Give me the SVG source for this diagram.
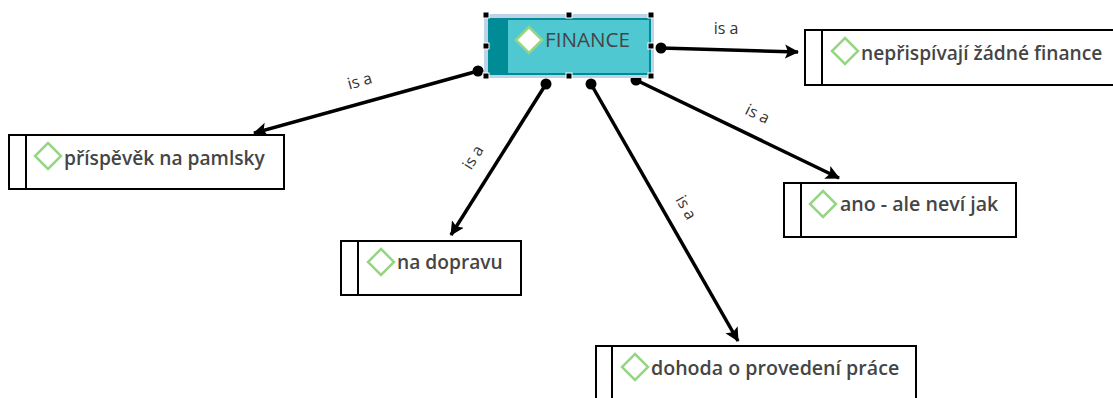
<svg xmlns="http://www.w3.org/2000/svg" width="1113" height="398" viewBox="0 0 1113 398">
<style>
.box{fill:#fff;stroke:#000;stroke-width:2}
.bar{stroke:#000;stroke-width:2;fill:none}
.dia{fill:#fff;stroke:#97d585;stroke-width:2.5}
.t{font-family:"Open Sans","Noto Sans",sans-serif;font-weight:600;font-size:19.2px;fill:#454545}
.l{font-family:"Open Sans","Noto Sans",sans-serif;font-size:16px;fill:#333}
.c{stroke:#000;stroke-width:3.5;fill:none;marker-end:url(#a)}
.h{fill:#000}
.hw{fill:#000;stroke:#fff;stroke-width:1}
</style>
<defs><marker id="a" markerUnits="userSpaceOnUse" markerWidth="16" markerHeight="16" refX="13" refY="8" orient="auto"><path d="M0 1L14 8L0 15L3 8Z" fill="#000"/></marker></defs>
<g id="connectors">
<path class="c" d="M478 71L254 133"/><circle class="h" cx="478" cy="71" r="5.5"/>
<path class="c" d="M546 84L451 235"/><circle class="h" cx="546" cy="84" r="5.5"/>
<path class="c" d="M591 84L738 341"/><circle class="h" cx="591" cy="84" r="5.5"/>
<path class="c" d="M636 80L839 178"/><circle class="h" cx="636" cy="80" r="5.5"/>
<path class="c" d="M661 48L798 52"/><circle class="h" cx="661" cy="48" r="5.5"/>
<text class="l" transform="translate(360 82) rotate(-16)" text-anchor="middle" dominant-baseline="middle">is a</text>
<text class="l" transform="translate(474 158) rotate(-58)" text-anchor="middle" dominant-baseline="middle">is a</text>
<text class="l" transform="translate(685 208) rotate(60)" text-anchor="middle" dominant-baseline="middle">is a</text>
<text class="l" transform="translate(757 115) rotate(26)" text-anchor="middle" dominant-baseline="middle">is a</text>
<text class="l" x="726" y="30" text-anchor="middle" dominant-baseline="middle">is a</text>
</g>
<g id="finance">
<rect x="484" y="14" width="170" height="64" fill="#c0d3e6"/>
<rect x="489" y="19" width="161" height="55" fill="#50c8d2" stroke="#008c96" stroke-width="2"/>
<rect x="488" y="18" width="20" height="56" fill="#008c96"/>
<g class="hw"><rect x="483" y="12" width="6" height="6"/><rect x="566" y="12" width="6" height="6"/><rect x="648" y="12" width="6" height="6"/><rect x="483" y="43" width="6" height="6"/><rect x="648" y="43" width="6" height="6"/><rect x="483" y="73" width="6" height="6"/><rect x="566" y="73" width="6" height="6"/><rect x="648" y="73" width="6" height="6"/></g>
<path class="dia" d="M529 27L542 40L529 53L516 40Z"/>
<text x="545" y="47" font-family="'Open Sans','Noto Sans',sans-serif" font-weight="500" font-size="20.6" fill="#454545">FINANCE</text>
</g>
<g id="n1"><rect class="box" x="805" y="30" width="310" height="55"/><path class="bar" d="M822 30V85"/><path class="dia" d="M845 38L858 51L845 64L832 51Z"/><text class="t" x="861" y="60">nepřispívají žádné finance</text></g>
<g id="n2"><rect class="box" x="9" y="135" width="275" height="54"/><path class="bar" d="M26 135V189"/><path class="dia" d="M48 143L61 156L48 169L35 156Z"/><text class="t" x="64" y="165">příspěvěk na pamlsky</text></g>
<g id="n3"><rect class="box" x="341" y="241" width="180" height="54"/><path class="bar" d="M358 241V295"/><path class="dia" d="M381 249L394 262L381 275L368 262Z"/><text class="t" x="397" y="269">na dopravu</text></g>
<g id="n4"><rect class="box" x="784" y="183" width="232" height="54"/><path class="bar" d="M801 183V237"/><path class="dia" d="M823 191L836 204L823 217L810 204Z"/><text class="t" x="840" y="211" style="font-size:19.6px">ano - ale neví jak</text></g>
<g id="n5"><rect class="box" x="596" y="346" width="320" height="56"/><path class="bar" d="M612 346V402"/><path class="dia" d="M635 354L648 367L635 380L622 367Z"/><text class="t" x="651" y="375" style="font-size:19.6px">dohoda o provedení práce</text></g>
</svg>
